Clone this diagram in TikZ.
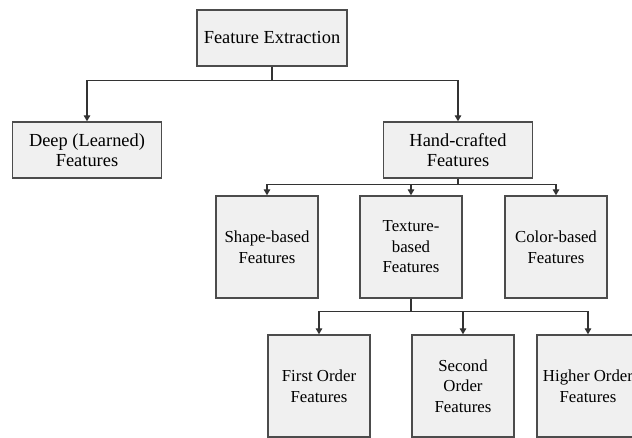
\documentclass[tikz,border=0pt]{standalone}
\usepackage{fontspec}
\setmainfont{Liberation Serif}
\usetikzlibrary{arrows.meta}

\begin{document}
\begin{tikzpicture}[x=0.75pt,y=-0.75pt,
	box/.style={draw=black!70, fill=black!6, line width=1.1pt, align=center, inner sep=0pt},
	topbox/.style={box, minimum width=112pt, minimum height=42pt, font=\fontsize{13.8}{15}\selectfont},
	subbox/.style={box, minimum width=76.5pt, minimum height=76.5pt, font=\fontsize{12.6}{15.4}\selectfont},
	link/.style={draw=black!80, line width=0.8pt},
	arrow/.style={link, -{Triangle[length=4.5pt,width=5pt]}}]
	\clip (0,0) rectangle (632,438);
	
	% Define nodes
	\node [topbox, minimum width=112.5pt] (fe) at (272,38) {Feature Extraction};
	\node [topbox] (deep) at (87,150) {Deep (Learned)\\Features};
	\node [topbox] (hand) at (458,150) {Hand-crafted\\Features};
	\node [subbox] (shape) at (267,247) {Shape-based\\Features};
	\node [subbox] (texture) at (411,247) {Texture-\\based\\Features};
	\node [subbox] (color) at (556,247) {Color-based\\Features};
	\node [subbox] (first) at (319,386) {First Order\\Features};
	\node [subbox] (second) at (463,386) {Second\\Order\\Features};
	\node [subbox] (higher) at (588,386) {Higher Order\\Features};
	
	% Draw edges
	\draw [arrow] (fe.south) -- ++(0,14) -| (deep.north);
	\draw [arrow] (fe.south) -- ++(0,14) -| (hand.north);
	\foreach \n in {shape,texture,color}
		\draw [arrow] (hand.south) -- ++(0,6) -| (\n.north);
	\foreach \n in {first,second,higher}
		\draw [arrow] (texture.south) -- ++(0,13) -| (\n.north);
\end{tikzpicture}
\end{document}
